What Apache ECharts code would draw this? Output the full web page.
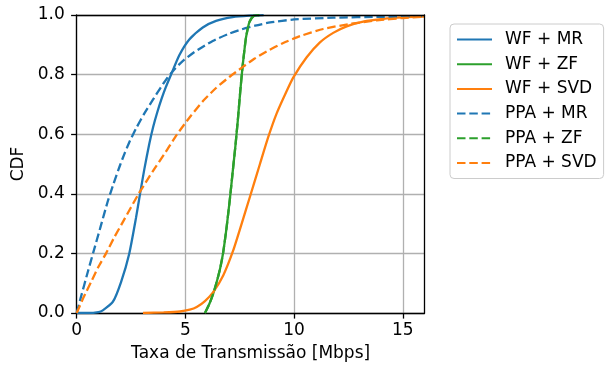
<!DOCTYPE html>
<html>
<head>
<meta charset="utf-8">
<script src="https://cdn.jsdelivr.net/npm/echarts@6/dist/echarts.min.js"></script>
<style>html,body{margin:0;padding:0;background:#fff;}#c{width:607px;height:367px;}</style>
</head>
<body>
<div id="c"></div>
<script>
const seriesNames = ['WF + MR', 'WF + ZF', 'WF + SVD', 'PPA + MR', 'PPA + ZF', 'PPA + SVD'];
const xTicks = [0, 5, 10, 15];

const wfMrX = [0, 0.5, 1.0, 1.2, 1.66, 2.04, 2.42, 2.73, 2.91, 3.11, 3.34, 3.52, 3.7, 3.91, 4.1, 4.34, 4.72, 5.18, 5.8, 6.41, 7.17, 7.94, 8.6];
const wfMrY = [0, 0, 0.003, 0.009, 0.037, 0.104, 0.2, 0.32, 0.398, 0.482, 0.568, 0.625, 0.672, 0.72, 0.758, 0.8, 0.865, 0.918, 0.958, 0.98, 0.993, 0.998, 0.9995];

const wfZfX = [5.9, 6.1, 6.28, 6.44, 6.6, 6.74, 6.9, 7.05, 7.2, 7.3, 7.41, 7.52, 7.63, 7.72, 7.79, 7.87, 7.94, 8.05, 8.17, 8.4];
const wfZfY = [0, 0.03, 0.065, 0.104, 0.15, 0.204, 0.29, 0.385, 0.49, 0.56, 0.645, 0.74, 0.827, 0.885, 0.925, 0.955, 0.975, 0.99, 0.998, 0.9995];

const wfSvdX = [3.05, 4.0, 4.75, 5.2, 5.52, 5.9, 6.28, 6.74, 7.2, 7.59, 7.97, 8.43, 8.81, 9.2, 9.66, 9.96, 10.58, 11.19, 11.8, 12.42, 13.18, 14.1, 15.02, 16.0];
const wfSvdY = [0, 0.002, 0.005, 0.011, 0.02, 0.04, 0.07, 0.126, 0.21, 0.3, 0.39, 0.5, 0.59, 0.67, 0.745, 0.79, 0.858, 0.908, 0.94, 0.962, 0.978, 0.987, 0.992, 0.995];

const ppaMrX = [0, 0.2, 0.5, 0.77, 1.1, 1.43, 1.7, 1.99, 2.2, 2.45, 2.75, 3.1, 3.5, 3.85, 4.15, 4.5, 4.9, 5.4, 5.9, 6.4, 7.0, 7.6, 8.2, 8.9, 10.0, 11.8, 14.0, 16.0];
const ppaMrY = [0, 0.055, 0.135, 0.205, 0.29, 0.375, 0.435, 0.495, 0.535, 0.578, 0.622, 0.668, 0.715, 0.755, 0.787, 0.818, 0.847, 0.875, 0.898, 0.918, 0.937, 0.952, 0.964, 0.975, 0.985, 0.991, 0.994, 0.996];

const ppaZfX = [5.9, 6.1, 6.28, 6.44, 6.6, 6.74, 6.9, 7.05, 7.2, 7.3, 7.41, 7.52, 7.63, 7.72, 7.79, 7.87, 7.94, 8.05, 8.17, 8.4];
const ppaZfY = [0, 0.03, 0.065, 0.104, 0.15, 0.204, 0.29, 0.385, 0.49, 0.56, 0.645, 0.74, 0.827, 0.885, 0.925, 0.955, 0.975, 0.99, 0.998, 0.9995];

const ppaSvdX = [0, 0.3, 0.7, 1.0, 1.35, 1.7, 2.12, 2.5, 2.85, 3.25, 3.65, 4.1, 4.6, 5.2, 5.82, 6.41, 7.02, 7.63, 8.17, 8.74, 9.5, 10.27, 11.34, 12.57, 13.8, 15.02, 16.0];
const ppaSvdY = [0, 0.05, 0.11, 0.155, 0.2, 0.25, 0.305, 0.355, 0.4, 0.447, 0.492, 0.541, 0.598, 0.657, 0.712, 0.755, 0.792, 0.825, 0.853, 0.878, 0.906, 0.929, 0.953, 0.97, 0.982, 0.99, 0.994];

const FONT = 'DejaVu Sans';
const FS = 17;
const BLUE = '#1f77b4', GREEN = '#2ca02c', ORANGE = '#ff7f0e';
const DASH = [8.5, 3.8];

function pairs(xs, ys) { return xs.map((x, i) => [x, ys[i]]); }

const seriesDefs = [
  [wfMrX, wfMrY, BLUE, 'solid'],
  [wfZfX, wfZfY, GREEN, 'solid'],
  [wfSvdX, wfSvdY, ORANGE, 'solid'],
  [ppaMrX, ppaMrY, BLUE, DASH],
  [ppaZfX, ppaZfY, GREEN, DASH],
  [ppaSvdX, ppaSvdY, ORANGE, DASH]
];

const chart = echarts.init(document.getElementById('c'), null, { renderer: 'canvas' });
const axisLineStyle = { color: '#000', width: 1.3 };
chart.setOption({
  animation: false,
  backgroundColor: '#fff',
  textStyle: { fontFamily: FONT },
  grid: { left: 76.7, top: 15, right: 182.5, bottom: 52.7, containLabel: false },
  legend: {
    orient: 'vertical', left: 450, top: 24,
    padding: [7, 7, 7, 6],
    itemWidth: 35, itemHeight: 14, itemGap: 7.7,
    borderColor: '#cccccc', borderWidth: 1, borderRadius: 4,
    backgroundColor: '#fff',
    itemStyle: { opacity: 0 },
    textStyle: { fontFamily: FONT, fontSize: FS, color: '#000', padding: [0, 0, 0, 8] },
    data: seriesNames
  },
  xAxis: [{
    type: 'value', min: 0, max: 16, interval: 5,
    name: 'Taxa de Transmissão [Mbps]', nameLocation: 'middle', nameGap: 32,
    nameTextStyle: { fontFamily: FONT, fontSize: FS, color: '#000' },
    axisLine: { show: true, onZero: false, lineStyle: axisLineStyle },
    axisTick: { show: true, length: 5.6, lineStyle: axisLineStyle, customValues: xTicks },
    axisLabel: { fontFamily: FONT, fontSize: FS, color: '#000', margin: 9, customValues: xTicks },
    splitLine: { show: true, lineStyle: { color: '#b0b0b0', width: 1.3 } }
  }, {
    type: 'value', min: 0, max: 16, position: 'top', z: 5,
    axisLine: { show: true, onZero: false, lineStyle: axisLineStyle },
    axisTick: { show: false }, axisLabel: { show: false }, splitLine: { show: false }
  }],
  yAxis: [{
    type: 'value', min: 0, max: 1, interval: 0.2,
    name: 'CDF', nameLocation: 'middle', nameGap: 30,
    nameTextStyle: { fontFamily: FONT, fontSize: FS, color: '#000' },
    axisLine: { show: true, onZero: false, lineStyle: axisLineStyle },
    axisTick: { show: true, length: 5.6, lineStyle: axisLineStyle },
    axisLabel: { fontFamily: FONT, fontSize: FS, color: '#000', margin: 12, formatter: v => v.toFixed(1) },
    splitLine: { show: true, lineStyle: { color: '#b0b0b0', width: 1.3 } }
  }, {
    type: 'value', min: 0, max: 1, position: 'right', z: 5,
    axisLine: { show: true, onZero: false, lineStyle: axisLineStyle },
    axisTick: { show: false }, axisLabel: { show: false }, splitLine: { show: false }
  }],
  series: seriesDefs.map((d, i) => ({
    name: seriesNames[i], type: 'line', xAxisIndex: 0, yAxisIndex: 0,
    data: pairs(d[0], d[1]), symbol: 'none', smooth: 0.2,
    color: d[2],
    lineStyle: { color: d[2], width: 2.3, type: d[3] }
  }))
});
</script>
</body>
</html>
